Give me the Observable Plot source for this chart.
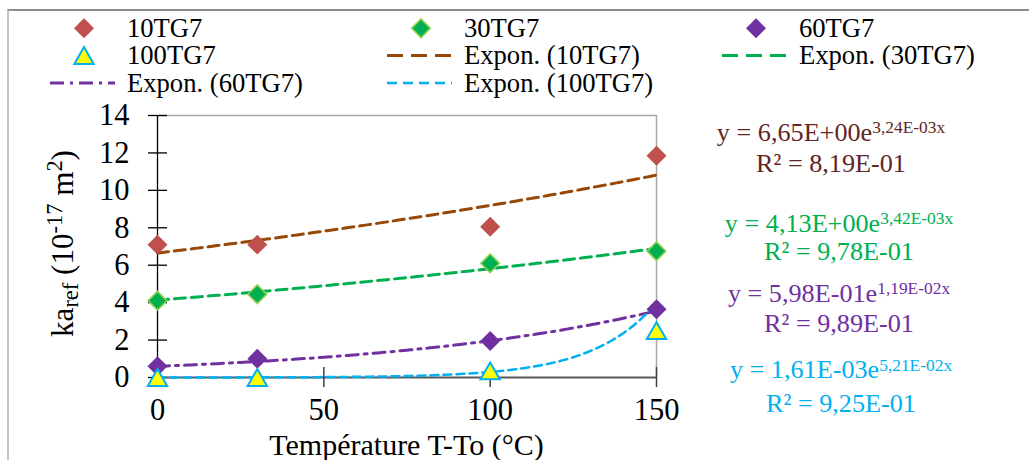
<!DOCTYPE html>
<html><head><meta charset="utf-8">
<script src="https://cdn.jsdelivr.net/npm/d3@7"></script>
<script src="https://cdn.jsdelivr.net/npm/@observablehq/plot@0.6"></script>
<style>
body{margin:0;background:#fff;}
#wrap{position:relative;width:1029px;height:460px;overflow:hidden;}
#border{position:absolute;left:7px;top:9px;width:1100px;height:600px;border-left:2px solid #c4c4c4;border-top:2px solid #8c8c8c;}
#legend{position:absolute;left:0;top:0;}
#chart{position:absolute;left:0;top:100px;}
svg{overflow:visible}
</style></head>
<body>
<div id="wrap"><div id="border"></div><div id="legend"></div><div id="chart"></div></div>
<script>
// ---------- data ----------
const temps = [0, 30, 100, 150];
const seriesNames = ["10TG7", "30TG7", "60TG7", "100TG7"];
const ka10TG7 = [7.1, 7.1, 8.05, 11.85];
const ka30TG7 = [4.1, 4.45, 6.1, 6.75];
const ka60TG7 = [0.6, 1.0, 1.95, 3.65];
const ka100TG7 = [0.0, 0.0, 0.35, 2.5];
const seriesValues = [ka10TG7, ka30TG7, ka60TG7, ka100TG7];
// displayed exponential trendline equations (y = a e^(b x))
const fitCoef = ["6,65E+00", "4,13E+00", "5,98E-01", "1,61E-03"];
const fitExp = ["3,24E-03", "3,42E-03", "1,19E-02", "5,21E-02"];
const fitR2 = ["8,19E-01", "9,78E-01", "9,89E-01", "9,25E-01"];
const xTicks = [0, 50, 100, 150];
const yTicks = [0, 2, 4, 6, 8, 10, 12, 14];
const xTitle = "Température T-To (°C)";

// ---------- font selection (serif, Times-like) ----------
const ctx = document.createElement("canvas").getContext("2d");
const mw = (t, f) => { ctx.font = f; return ctx.measureText(t).width; };
const probe = "Température T-To 0123456789 WMmil";
const has = f => mw(probe, "40px monospace") !== mw(probe, `40px "${f}", monospace`) ||
                 mw(probe, "40px sans-serif") !== mw(probe, `40px "${f}", sans-serif`);
const candidates = ["Liberation Serif", "Times New Roman", "Tinos", "Nimbus Roman", "Nimbus Roman No9 L", "FreeSerif", "Noto Serif", "DejaVu Serif", "Liberation Sans"];
const FONT = candidates.find(has) || "serif";
const FF = `"${FONT}", serif`;
const fitSize = (t, target) => target * 100 / mw(t, `100px ${FF}`);
const tickFS = Math.min(30.5, fitSize("150", 47));
const legFS = Math.min(28, fitSize("Expon. (60TG7)", 176));
const eqFS = Math.min(27, fitSize("R² = 8,19E-01", 150));
const supFS = Math.min(18, fitSize("3,24E-03x", 73));
const xtFS = Math.min(30, fitSize(xTitle, 288));
const ytRatio = 0.72;
const ytFS = Math.min(32, 187 / ((mw("ka (10 m)", `100px ${FF}`) + ytRatio * mw("ref-172", `100px ${FF}`)) / 100));

// ---------- styles ----------
const markerStyle = [
  {symbol: "diamond2", r: 9, fill: "#C0504D", stroke: "none", strokeWidth: 0, dy: 0},
  {symbol: "diamond2", r: 8.4, fill: "#00B050", stroke: "#92D050", strokeWidth: 1.6, dy: 0},
  {symbol: "diamond2", r: 9, fill: "#7030A0", stroke: "none", strokeWidth: 0, dy: 0},
  {symbol: "triangle", r: 7.2, fill: "#FFFF00", stroke: "#00B0F0", strokeWidth: 2, dy: 2.8}
];
const trendStyle = [
  {stroke: "#974706", strokeWidth: 3, dash: "11,6", legendDash: "16,8"},
  {stroke: "#00B050", strokeWidth: 3, dash: "11,6", legendDash: "16,8"},
  {stroke: "#7030A0", strokeWidth: 3, dash: "12,6,3,6", legendDash: "14,6,3,6"},
  {stroke: "#00B0F0", strokeWidth: 2.5, dash: "8,5", legendDash: "10,6"}
];
const eqColors = ["#632523", "#00B050", "#7030A0", "#00B0F0"];

const num = s => parseFloat(s.replace(",", "."));
const fitX = d3.range(0, 150.0001, 1);

const marks = [
  Plot.ruleY([14], {stroke: "#a6a6a6", strokeWidth: 1.5}),
  Plot.ruleX([150], {stroke: "#a6a6a6", strokeWidth: 1.5}),
  Plot.ruleY([0], {stroke: "#595959", strokeWidth: 2}),
  Plot.ruleX([0], {stroke: "#000", strokeWidth: 1.3}),
  Plot.axisY(yTicks, {tickSize: 19, dx: 10, tickPadding: 19, label: null, fontSize: tickFS, stroke: "#000", fill: "#000", strokeWidth: 1.3}),
  Plot.axisX(xTicks, {tickSize: 20, dy: -10, tickPadding: 11, label: null, fontSize: tickFS, stroke: "#404040", fill: "#000", strokeWidth: 1.5})
];
seriesNames.forEach((n, i) => {
  const a = num(fitCoef[i]), b = num(fitExp[i]);
  const t = trendStyle[i];
  marks.push(Plot.line(fitX, {x: d => d, y: d => a * Math.exp(b * d), stroke: t.stroke, strokeWidth: t.strokeWidth, strokeDasharray: t.dash}));
});
seriesNames.forEach((n, i) => {
  const m = markerStyle[i];
  const pts = temps.map((t, j) => ({x: t, y: seriesValues[i][j]}));
  marks.push(Plot.dot(pts, {x: "x", y: "y", symbol: m.symbol, r: m.r, fill: m.fill, stroke: m.stroke, strokeWidth: m.strokeWidth, dy: m.dy}));
});

const plot = Plot.plot({
  width: 1029, height: 360,
  marginTop: 15, marginBottom: 83, marginLeft: 157, marginRight: 373,
  style: {fontFamily: FF, fontSize: tickFS + "px", color: "#000", background: "transparent", overflow: "visible"},
  x: {domain: [0, 150]},
  y: {domain: [0, 14]},
  marks
});
document.getElementById("chart").appendChild(plot);

// ---------- axis titles ----------
const s = d3.select(plot);
const xr = plot.scale("x").range;
s.append("text").attr("x", (xr[0] + xr[1]) / 2).attr("y", 355).attr("text-anchor", "middle")
  .attr("font-size", xtFS).attr("fill", "#000").style("font-family", FF)
  .text(xTitle);
const yt = s.append("text").attr("transform", "translate(73,143.5) rotate(-90)").attr("text-anchor", "middle")
  .attr("font-size", ytFS).attr("fill", "#000").style("font-family", FF).style("white-space", "pre");
const ySub = ytFS * ytRatio;
yt.append("tspan").text("ka");
yt.append("tspan").attr("font-size", ySub).attr("dy", 5).text("ref");
yt.append("tspan").attr("dy", -5).text(" (10");
yt.append("tspan").attr("font-size", ySub).attr("dy", -11).text("-17");
yt.append("tspan").attr("dy", 11).text(" m");
yt.append("tspan").attr("font-size", ySub).attr("dy", -11).text("2");
yt.append("tspan").attr("dy", 11).text(")");

// ---------- equations (right of the plot) ----------
const eqCenterX = [831, 839, 839, 841];
const eqBaselines = [[140.5, 171.7], [231.7, 260], [301.7, 331.7], [378.3, 411.7]];
seriesNames.forEach((n, i) => {
  const t1 = s.append("text").attr("x", eqCenterX[i]).attr("y", eqBaselines[i][0] - 100)
    .attr("text-anchor", "middle").attr("font-size", eqFS).attr("fill", eqColors[i]).style("font-family", FF).style("white-space", "pre");
  t1.append("tspan").text(`y = ${fitCoef[i]}e`);
  t1.append("tspan").attr("font-size", supFS).attr("dy", -7.5).text(`${fitExp[i]}x`);
  s.append("text").attr("x", eqCenterX[i]).attr("y", eqBaselines[i][1] - 100)
    .attr("text-anchor", "middle").attr("font-size", eqFS).attr("fill", eqColors[i]).style("font-family", FF)
    .text(`R² = ${fitR2[i]}`);
});

// ---------- legend (above the chart) ----------
const legendItems = [
  ...seriesNames.map((n, i) => ({label: n, kind: "marker", i})),
  ...seriesNames.map((n, i) => ({label: `Expon. (${n})`, kind: "line", i}))
];
const colX = [50, 387, 722];
const rowBase = [36.7, 64, 91.7];
const rowMid = [28.3, 55.5, 83];
const lg = d3.create("svg").attr("width", 1029).attr("height", 100);
legendItems.forEach((it, k) => {
  const cx = colX[k % 3], r = Math.floor(k / 3);
  if (it.kind === "marker") {
    const m = markerStyle[it.i];
    const sym = m.symbol === "triangle" ? d3.symbolTriangle : d3.symbolDiamond2;
    lg.append("path").attr("d", d3.symbol(sym, Math.PI * m.r * m.r)())
      .attr("transform", `translate(${cx + 34},${rowMid[r] + m.dy})`)
      .attr("fill", m.fill).attr("stroke", m.stroke).attr("stroke-width", m.strokeWidth);
  } else {
    const t = trendStyle[it.i];
    lg.append("line").attr("x1", cx).attr("x2", cx + 65).attr("y1", rowMid[r]).attr("y2", rowMid[r])
      .attr("stroke", t.stroke).attr("stroke-width", t.strokeWidth).attr("stroke-dasharray", t.legendDash);
  }
  lg.append("text").attr("x", cx + 77).attr("y", rowBase[r]).attr("font-size", legFS)
    .attr("fill", "#000").style("font-family", FF).text(it.label);
});
document.getElementById("legend").appendChild(lg.node());
</script>
</body></html>
